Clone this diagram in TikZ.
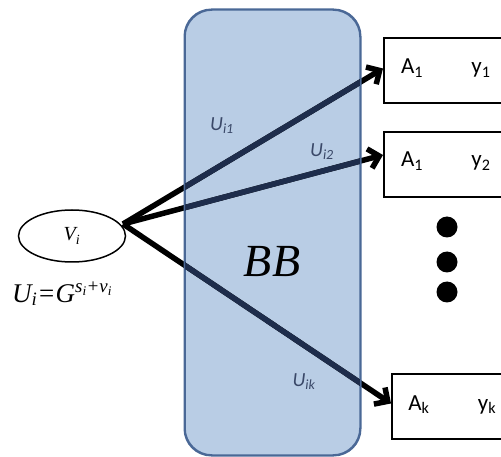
\documentclass[tikz,border=0pt]{standalone}
\usepackage{fontspec}
\setmainfont{Liberation Serif}
\newfontfamily\calib{Carlito}
\usetikzlibrary{arrows.meta,shapes.geometric}
\definecolor{bbfill}{HTML}{B9CDE5}
\definecolor{bbline}{HTML}{4A6896}
\definecolor{navy}{HTML}{1E2D4C}
\definecolor{slate}{HTML}{3A4868}

\begin{document}
\begin{tikzpicture}[x=1pt,y=-1pt,
  outbox/.style={draw,line width=2pt,minimum width=135pt,minimum height=65pt,anchor=west,inner sep=0},
  arr/.style={-{Straight Barb[length=10pt,width=20pt]},line width=5.5pt},
  inarr/.style={line width=5.5pt,draw=navy},
  boxtxt/.style={font=\calib\fontsize{23}{23}\selectfont,anchor=base},
  lab/.style={font=\calib\fontsize{20}{20}\selectfont\itshape,text=slate},
  dot/.style={circle,fill,minimum size=21pt,inner sep=0}]
  \useasboundingbox (0,0) rectangle (501,457);
  % the black box
  \node[draw=bbline,fill=bbfill,line width=1.5pt,rounded corners=27pt,
        minimum width=175pt,minimum height=445pt] (bb) at (272.5,232.5) {};
  % source and receivers
  \node[ellipse,draw,line width=1.5pt,minimum width=107pt,minimum height=52pt,
        font=\fontsize{20}{20}\selectfont\itshape] (vi) at (72,236) {V\textsubscript{i}};
  \node[outbox] (a1) at (383,70.5) {};
  \node[outbox] (a2) at (383,165) {};
  \node[outbox] (ak) at (391,406.5) {};
  \coordinate (src) at (123,224);
  \coordinate (e1) at ([yshift=2pt]a1.west);
  \coordinate (e2) at ([yshift=10pt]a2.west);
  \coordinate (ek) at ([yshift=3pt]ak.west);
  \draw[arr] (src) -- (e1);
  \draw[arr] (src) -- (e2);
  \draw[arr] (src) -- (ek);
  % inside the box the lines look darker blue
  \begin{scope}
    \clip[rounded corners=27pt] (bb.south west) rectangle (bb.north east);
    \draw[inarr] (src) -- (e1);
    \draw[inarr] (src) -- (e2);
    \draw[inarr] (src) -- (ek);
  \end{scope}
  \draw[bbline,line width=1.5pt,rounded corners=27pt] (bb.south west) rectangle (bb.north east);
  \node[font=\fontsize{46}{46}\selectfont\itshape] (bbt) at (272,262) {BB};
  % labels
  \node[lab] (u1) at (222,126) {U\textsubscript{i1}};
  \node[lab] (u2) at (322,152) {U\textsubscript{i2}};
  \node[lab] (uk) at (304,382) {U\textsubscript{ik}};
  \node[boxtxt] (t1a) at (412,74) {A\textsubscript{1}};
  \node[boxtxt] (t1y) at (481,74) {y\textsubscript{1}};
  \node[boxtxt] (t2a) at (412,167) {A\textsubscript{1}};
  \node[boxtxt] (t2y) at (481,167) {y\textsubscript{2}};
  \node[boxtxt] (tka) at (419,410) {A\textsubscript{k}};
  \node[boxtxt] (tky) at (487,410) {y\textsubscript{k}};
  \node[dot] (d1) at (447,227) {};
  \node[dot] (d2) at (447,262) {};
  \node[dot] (d3) at (447,292) {};
  \node[font=\fontsize{27}{27}\selectfont\itshape,anchor=base west,inner sep=0] (eq) at (12,302)
    {U\textsubscript{i}=G\textsuperscript{s\textsubscript{i}+v\textsubscript{i}}};
\end{tikzpicture}
\end{document}
